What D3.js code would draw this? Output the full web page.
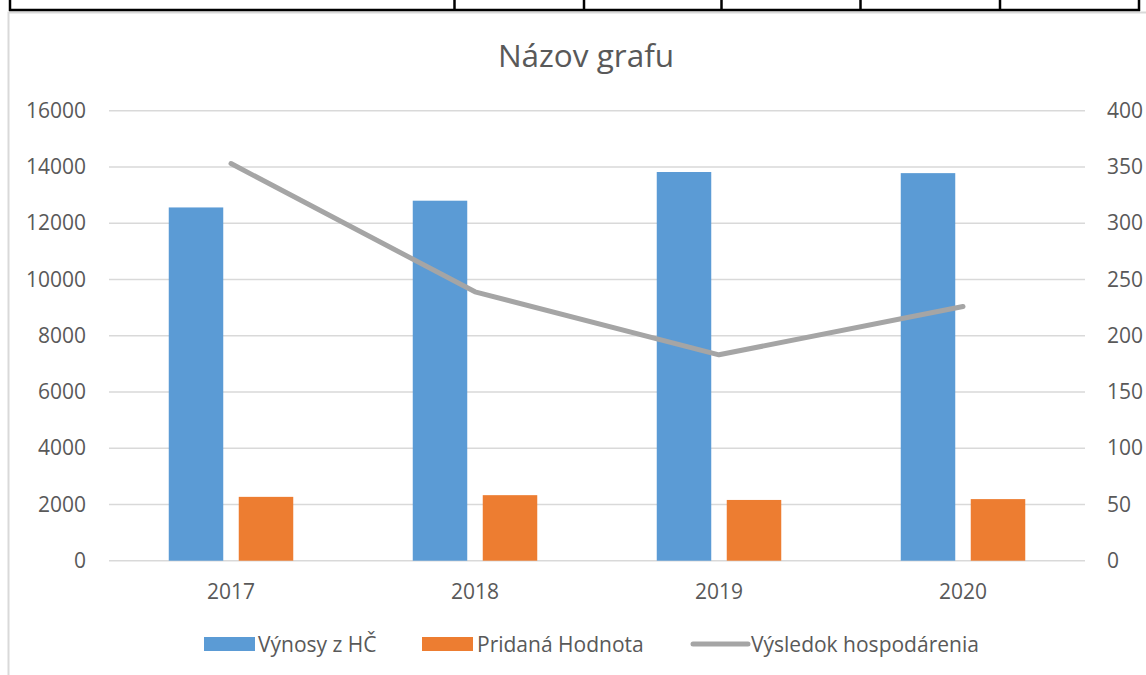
<!DOCTYPE html>
<html>
  <head>
    <meta charset="UTF-8" />
    <title>Názov grafu</title>
    <script src="https://d3js.org/d3.v7.min.js"></script>
    <style>
      body { margin: 0; background: #fff; }
      text { font-family: "Open Sans", sans-serif; fill: #595959; }
    </style>
  </head>
  <body>
    <svg width="1146" height="675"></svg>
    <script>
      var years = ["2017", "2018", "2019", "2020"];
      var vynosy = [12560, 12800, 13820, 13780];
      var pridana = [2270, 2330, 2160, 2190];
      var vysledok = [353, 239, 183, 226];
      var leftTicks = [0, 2000, 4000, 6000, 8000, 10000, 12000, 14000, 16000];
      var rightTicks = [0, 50, 100, 150, 200, 250, 300, 350, 400];
      var seriesNames = ["Výnosy z HČ", "Pridaná Hodnota", "Výsledok hospodárenia"];
      var tableCols = [10, 454.5, 584, 721.5, 860.5, 1000, 1139];

      var svg = d3.select("svg");

      // chart area border (light gray)
      svg.append("path")
        .attr("d", "M8.5,675 V12.5 H1146")
        .attr("fill", "none")
        .attr("stroke", "#d9d9d9")
        .attr("stroke-width", 2);

      // table fragment above the chart
      svg.append("line")
        .attr("x1", 9).attr("x2", 1140).attr("y1", 10).attr("y2", 10)
        .attr("stroke", "#000").attr("stroke-width", 2.5);
      svg.selectAll(".tcol").data(tableCols).enter().append("line")
        .attr("x1", d => d).attr("x2", d => d)
        .attr("y1", 0).attr("y2", 11)
        .attr("stroke", "#000").attr("stroke-width", 2.5);

      var plotL = 109, plotR = 1085, plotT = 110.7, plotB = 560.7;

      var x0 = d3.scaleBand().domain(years).range([plotL, plotR]);
      var y = d3.scaleLinear().domain([0, 16000]).range([plotB, plotT]);
      var y2 = d3.scaleLinear().domain([0, 400]).range([plotB, plotT]);

      // gridlines
      svg.append("g").selectAll("line").data(leftTicks).enter().append("line")
        .attr("x1", plotL).attr("x2", plotR)
        .attr("y1", d => y(d)).attr("y2", d => y(d))
        .attr("stroke", "#d9d9d9").attr("stroke-width", 1.5);

      // left axis
      var gl = svg.append("g")
        .attr("transform", "translate(" + (plotL - 23) + ",0)")
        .call(d3.axisLeft(y).tickValues(leftTicks).tickSize(0).tickPadding(0).tickFormat(d3.format("d")));
      gl.select(".domain").remove();
      gl.selectAll("text").attr("fill", "#595959").style("font-size", "21px")
        .style("font-family", "'Open Sans', sans-serif");

      // right axis
      var gr = svg.append("g")
        .attr("transform", "translate(" + (plotR + 22) + ",0)")
        .call(d3.axisRight(y2).tickValues(rightTicks).tickSize(0).tickPadding(0));
      gr.select(".domain").remove();
      gr.selectAll("text").attr("fill", "#595959").style("font-size", "21px")
        .style("font-family", "'Open Sans', sans-serif");

      // bottom axis
      var gb = svg.append("g")
        .attr("transform", "translate(0," + plotB + ")")
        .call(d3.axisBottom(x0).tickSize(0).tickPadding(23));
      gb.select(".domain").remove();
      gb.selectAll("text").attr("fill", "#595959").style("font-size", "21px")
        .style("font-family", "'Open Sans', sans-serif");

      // bars
      var barW = 54.5, off = 35;
      svg.append("g").selectAll("rect").data(vynosy).enter().append("rect")
        .attr("x", (d, i) => x0(years[i]) + x0.bandwidth() / 2 - off - barW / 2)
        .attr("y", d => y(d))
        .attr("width", barW)
        .attr("height", d => plotB - y(d))
        .attr("fill", "#5b9bd5");
      svg.append("g").selectAll("rect").data(pridana).enter().append("rect")
        .attr("x", (d, i) => x0(years[i]) + x0.bandwidth() / 2 + off - barW / 2)
        .attr("y", d => y(d))
        .attr("width", barW)
        .attr("height", d => plotB - y(d))
        .attr("fill", "#ed7d31");

      // line on secondary axis
      var line = d3.line()
        .x((d, i) => x0(years[i]) + x0.bandwidth() / 2)
        .y(d => y2(d));
      svg.append("path")
        .datum(vysledok)
        .attr("d", line)
        .attr("fill", "none")
        .attr("stroke", "#a5a5a5")
        .attr("stroke-width", 5)
        .attr("stroke-linecap", "round")
        .attr("stroke-linejoin", "round");

      // title
      svg.append("text")
        .attr("x", 586).attr("y", 67)
        .attr("text-anchor", "middle")
        .style("font-size", "31.5px")
        .text("Názov grafu");

      // legend
      var lg = svg.append("g");
      var legendPos = [204, 422, 693];
      var legendText = [258, 477, 751];
      lg.append("rect").attr("x", legendPos[0]).attr("y", 637).attr("width", 51).attr("height", 14).attr("fill", "#5b9bd5");
      lg.append("rect").attr("x", legendPos[1]).attr("y", 637).attr("width", 51).attr("height", 14).attr("fill", "#ed7d31");
      lg.append("line").attr("x1", legendPos[2]).attr("x2", legendPos[2] + 55).attr("y1", 644).attr("y2", 644)
        .attr("stroke", "#a5a5a5").attr("stroke-width", 5).attr("stroke-linecap", "round");
      lg.selectAll("text").data(seriesNames).enter().append("text")
        .attr("x", (d, i) => legendText[i])
        .attr("y", 651.5)
        .style("font-size", "21px")
        .text(d => d);
    </script>
  </body>
</html>
